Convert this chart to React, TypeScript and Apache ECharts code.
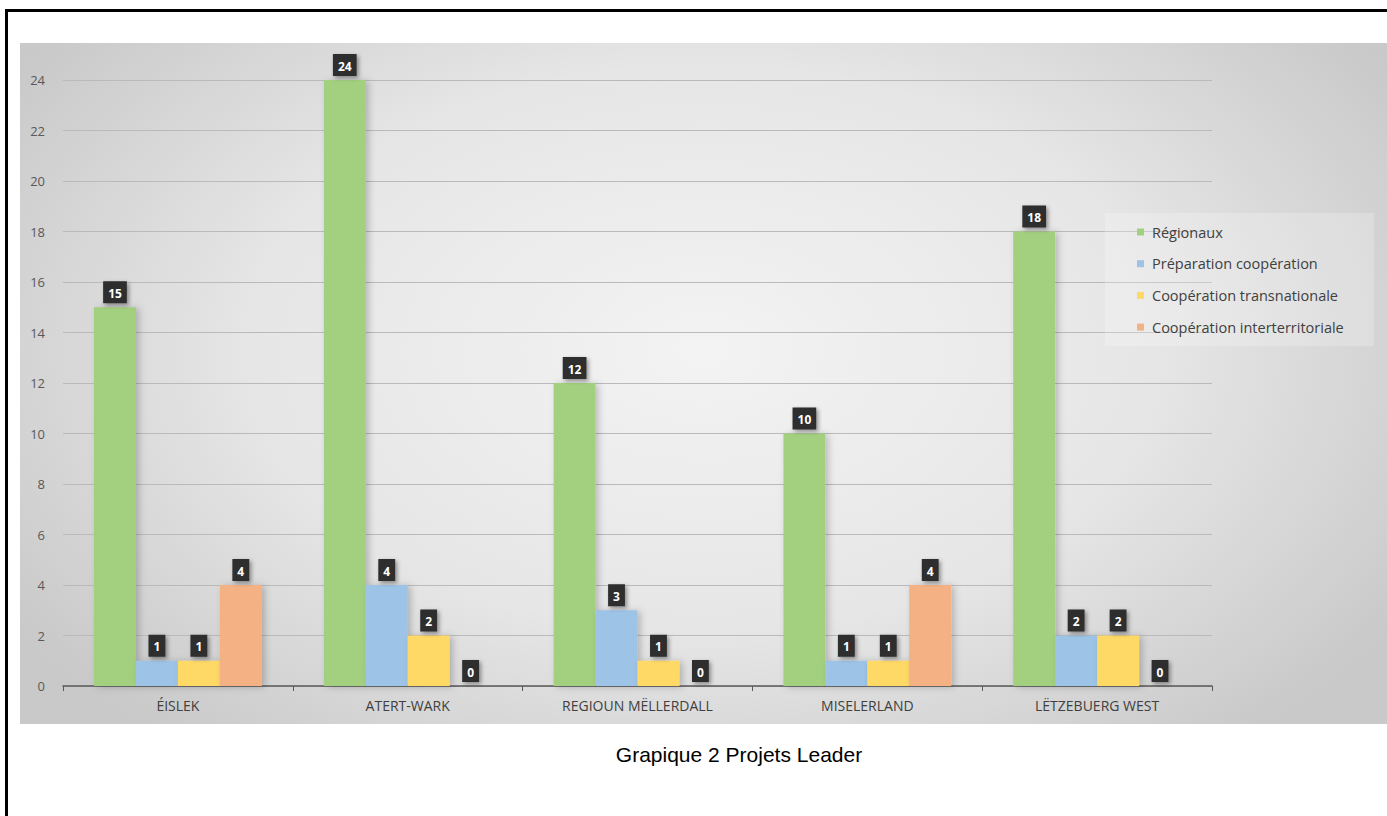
import React, { useEffect, useRef } from "react";
import * as echarts from "echarts";

const categories = ["ÉISLEK", "ATERT-WARK", "REGIOUN MËLLERDALL", "MISELERLAND", "LËTZEBUERG WEST"];
const seriesNames = ["Régionaux", "Préparation coopération", "Coopération transnationale", "Coopération interterritoriale"];
const regionaux = [15, 24, 12, 10, 18];
const preparation = [1, 4, 3, 1, 2];
const transnationale = [1, 2, 1, 1, 2];
const interterritoriale = [4, 0, 0, 4, 0];
const seriesColors = ["#a3d07f", "#9dc3e6", "#ffd966", "#f4b183"];
const caption = "Grapique 2 Projets Leader";

const FONT = "'Open Sans', 'Noto Sans', sans-serif";

export default function App() {
  const ref = useRef<HTMLDivElement>(null);

  useEffect(() => {
    if (!ref.current) return;
    const chart = echarts.init(ref.current, undefined, { renderer: "svg" });
    const allData = [regionaux, preparation, transnationale, interterritoriale];
    chart.setOption({
      animation: false,
      backgroundColor: "transparent",
      textStyle: { fontFamily: FONT },
      grid: { left: 63, right: 175, top: 80, bottom: 130 },
      legend: {
        orient: "vertical",
        left: 1105,
        top: 213,
        padding: [10, 30, 10, 32],
        itemGap: 13.7,
        itemWidth: 7,
        itemHeight: 7,
        icon: "rect",
        backgroundColor: "rgba(255,255,255,0.22)",
        textStyle: { color: "#404040", fontSize: 14.5, lineHeight: 18, fontFamily: FONT, padding: [0, 0, 0, 3] },
        data: seriesNames,
      },
      xAxis: {
        type: "category",
        data: categories,
        axisLine: { show: true, lineStyle: { color: "#595959", width: 1.5 } },
        axisTick: { show: true, length: 5, lineStyle: { color: "#595959" } },
        axisLabel: { color: "#404040", fontSize: 14, margin: 12, fontFamily: FONT },
        splitLine: { show: false },
      },
      yAxis: {
        type: "value",
        min: 0,
        max: 24,
        interval: 2,
        axisLine: { show: false },
        axisTick: { show: false },
        axisLabel: { color: "#595959", fontSize: 13, margin: 18, fontFamily: FONT },
        splitLine: { lineStyle: { color: "#bababa", width: 1 } },
      },
      series: seriesNames.map((name, i) => ({
        name,
        type: "bar",
        data: allData[i],
        barGap: "0%",
        barCategoryGap: "27%",
        itemStyle: {
          color: seriesColors[i],
          shadowColor: "rgba(0,0,0,0.22)",
          shadowBlur: 7,
          shadowOffsetX: 3,
          shadowOffsetY: 1,
        },
        label: {
          show: true,
          position: "top",
          distance: 4,
          color: "#ffffff",
          fontWeight: "bold",
          fontSize: 12,
          lineHeight: 14,
          fontFamily: FONT,
          backgroundColor: "#2e2e2e",
          padding: [5, 5, 3, 5],
          shadowColor: "rgba(0,0,0,0.4)",
          shadowBlur: 4,
          shadowOffsetX: 2,
          shadowOffsetY: 2,
        },
      })),
      graphic: [
        {
          type: "text",
          x: 739,
          y: 754,
          style: {
            text: caption,
            fill: "#000000",
            font: "21px 'Liberation Sans', Arial, sans-serif",
            textAlign: "center",
            textVerticalAlign: "middle",
          },
        },
      ],
    });
    return () => chart.dispose();
  }, []);

  return (
    <div style={{ position: "fixed", left: 0, top: 0, width: 1387, height: 816, overflow: "hidden", background: "#fff" }}>
      <div
        style={{
          position: "absolute",
          left: 5,
          top: 9,
          width: 1500,
          height: 900,
          borderLeft: "3px solid #000",
          borderTop: "3px solid #000",
          boxSizing: "border-box",
        }}
      />
      <div
        style={{
          position: "absolute",
          left: 20,
          top: 43,
          width: 1367,
          height: 681,
          background:
            "radial-gradient(ellipse 60% 75% at 50% 45%, #f3f3f3 0%, #e6e6e6 55%, #c9c9c9 100%)",
        }}
      />
      <div ref={ref} style={{ position: "absolute", left: 0, top: 0, width: 1387, height: 816 }} />
    </div>
  );
}
